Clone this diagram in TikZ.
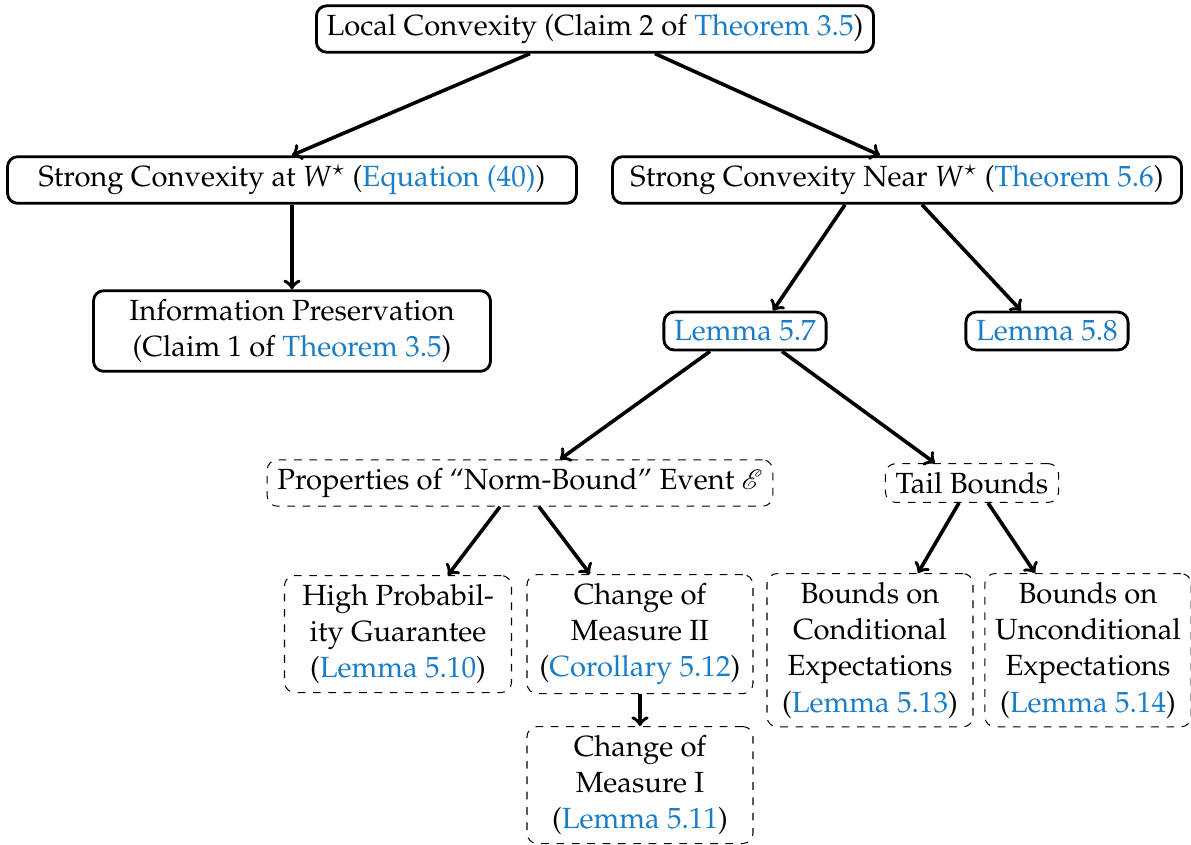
\documentclass[tikz,border=0pt]{standalone}
\usepackage[T1]{fontenc}
\usepackage{mathpazo}
\usepackage{mathrsfs}
\usetikzlibrary{calc}
\definecolor{linkblue}{RGB}{25,125,200}
\newcommand{\lnk}[1]{\textcolor{linkblue}{#1}}

\begin{document}
\begin{tikzpicture}[x=0.390625pt,y=-0.390625pt,
    solidbox/.style={draw,line width=1.1pt,rounded corners=4pt,align=center,inner xsep=4pt,font=\fontsize{11.4}{14.2}\selectfont},
    dashbox/.style={draw,dashed,rounded corners=4pt,align=center,inner xsep=4pt,font=\fontsize{11.4}{14.2}\selectfont},
    link/.style={->,line width=1.4pt}]
    \pgfmathsetmacro{\px}{0.390625}
    \useasboundingbox (0,0) rectangle (1191,844);
    % top level
    \node[solidbox] (top) at (595,29) {Local Convexity (Claim 2 of \lnk{Theorem 3.5})};
    \node[solidbox,minimum width=569*\px*1pt] (sl) at (292,180) {Strong Convexity at $W^\star$ (\lnk{Equation (40)})};
    \node[solidbox,minimum width=569*\px*1pt] (sn) at (897,180) {Strong Convexity Near $W^\star$ (\lnk{Theorem 5.6})};
    \node[solidbox,minimum width=397*\px*1pt] (info) at (292,331) {Information Preservation\\(Claim 1 of \lnk{Theorem 3.5})};
    \node[solidbox,minimum width=159*\px*1pt] (l57) at (745,331) {\lnk{Lemma 5.7}};
    \node[solidbox,minimum width=158*\px*1pt] (l58) at (1047,331) {\lnk{Lemma 5.8}};
    % dashed parts
    \node[dashbox] (prop) at (520,483) {Properties of ``Norm-Bound'' Event $\mathscr{E}$};
    \node[dashbox] (tail) at (972,483) {Tail Bounds};
    \node[dashbox,anchor=north,minimum width=227*\px*1pt] (hp) at (398,575) {High Probabil-\\ity Guarantee\\(\lnk{Lemma 5.10})};
    \node[dashbox,anchor=north,minimum width=226*\px*1pt] (cm2) at (640,574) {Change of\\Measure II\\(\lnk{Corollary 5.12})};
    \node[dashbox,anchor=north,minimum width=226*\px*1pt] (cm1) at (640,726) {Change of\\Measure I\\(\lnk{Lemma 5.11})};
    \node[dashbox,anchor=north,minimum width=206*\px*1pt] (bc) at (870,573) {Bounds on\\Conditional\\Expectations\\(\lnk{Lemma 5.13})};
    \node[dashbox,anchor=north,minimum width=204*\px*1pt] (bu) at (1088,573) {Bounds on\\Unconditional\\Expectations\\(\lnk{Lemma 5.14})};
    % arrows
    \draw[link] ($(top.south)+(-65,0)$) -- (sl.north);
    \draw[link] ($(top.south)+(60,0)$) -- ($(sn.north)+(-17,0)$);
    \draw[link] (sl.south) -- (info.north);
    \draw[link] ($(sn.south)+(-52,0)$) -- ($(l57.north)+(28,0)$);
    \draw[link] ($(sn.south)+(25,0)$) -- ($(l58.north)+(-26,0)$);
    \draw[link] ($(l57.south)+(-35,0)$) -- ($(prop.north)+(40,0)$);
    \draw[link] ($(l57.south)+(37,0)$) -- ($(tail.north)+(-37,0)$);
    \draw[link] ($(prop.south)+(-20,0)$) -- ($(hp.north)+(50,0)$);
    \draw[link] ($(prop.south)+(19,0)$) -- ($(cm2.north)+(-50,0)$);
    \draw[link] (cm2.south) -- (cm1.north);
    \draw[link] ($(tail.south)+(-13,0)$) -- ($(bc.north)+(48,0)$);
    \draw[link] ($(tail.south)+(16,0)$) -- ($(bu.north)+(-53,0)$);
\end{tikzpicture}
\end{document}
